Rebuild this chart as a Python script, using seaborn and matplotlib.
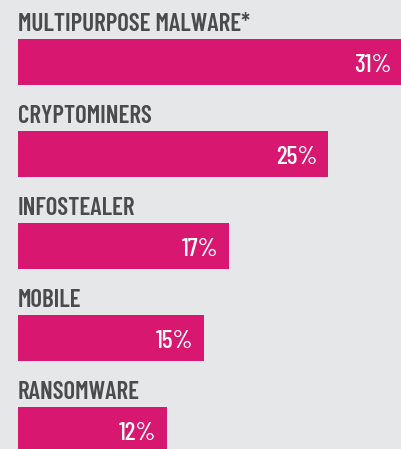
import numpy as np
import pandas as pd
import matplotlib
matplotlib.use("Agg")
import matplotlib.pyplot as plt
import seaborn as sns

# Data
categories = ["MULTIPURPOSE MALWARE*", "CRYPTOMINERS", "INFOSTEALER", "MOBILE", "RANSOMWARE"]
shares = [31, 25, 17, 15, 12]
value_labels = ["31%", "25%", "17%", "15%", "12%"]

bg = "#e6e7e9"
bar_color = "#d81870"
text_color = "#4a4b4d"

df = pd.DataFrame({"category": categories, "share": shares})

sns.set_style("white")
plt.rcParams["font.family"] = ["Barlow Condensed", "DejaVu Sans"]

fig = plt.figure(figsize=(4.02, 4.49), dpi=100, facecolor=bg)
ax = fig.add_axes([18 / 402, 0, 384 / 402, 1])
ax.set_facecolor(bg)

sns.barplot(data=df, x="share", y="category", orient="h", color=bar_color,
            saturation=1, width=0.5, linewidth=0, edgecolor="none", ax=ax)

ax.set_xlim(0, 31)
ax.set_ylim(4.207, -0.674)
ax.set_axis_off()

for i, (cat, val, lab) in enumerate(zip(categories, shares, value_labels)):
    # category name above the bar
    ax.text(0, i - 0.337, cat, ha="left", va="baseline", fontsize=18,
            fontweight="semibold", color=text_color)
    # percentage inside bar, right aligned
    ax.text(val - 0.85, i + 0.11, lab, ha="right", va="baseline", fontsize=18.5,
            fontweight="medium", color="white")

fig.savefig("out.png", dpi=100, facecolor=bg)
